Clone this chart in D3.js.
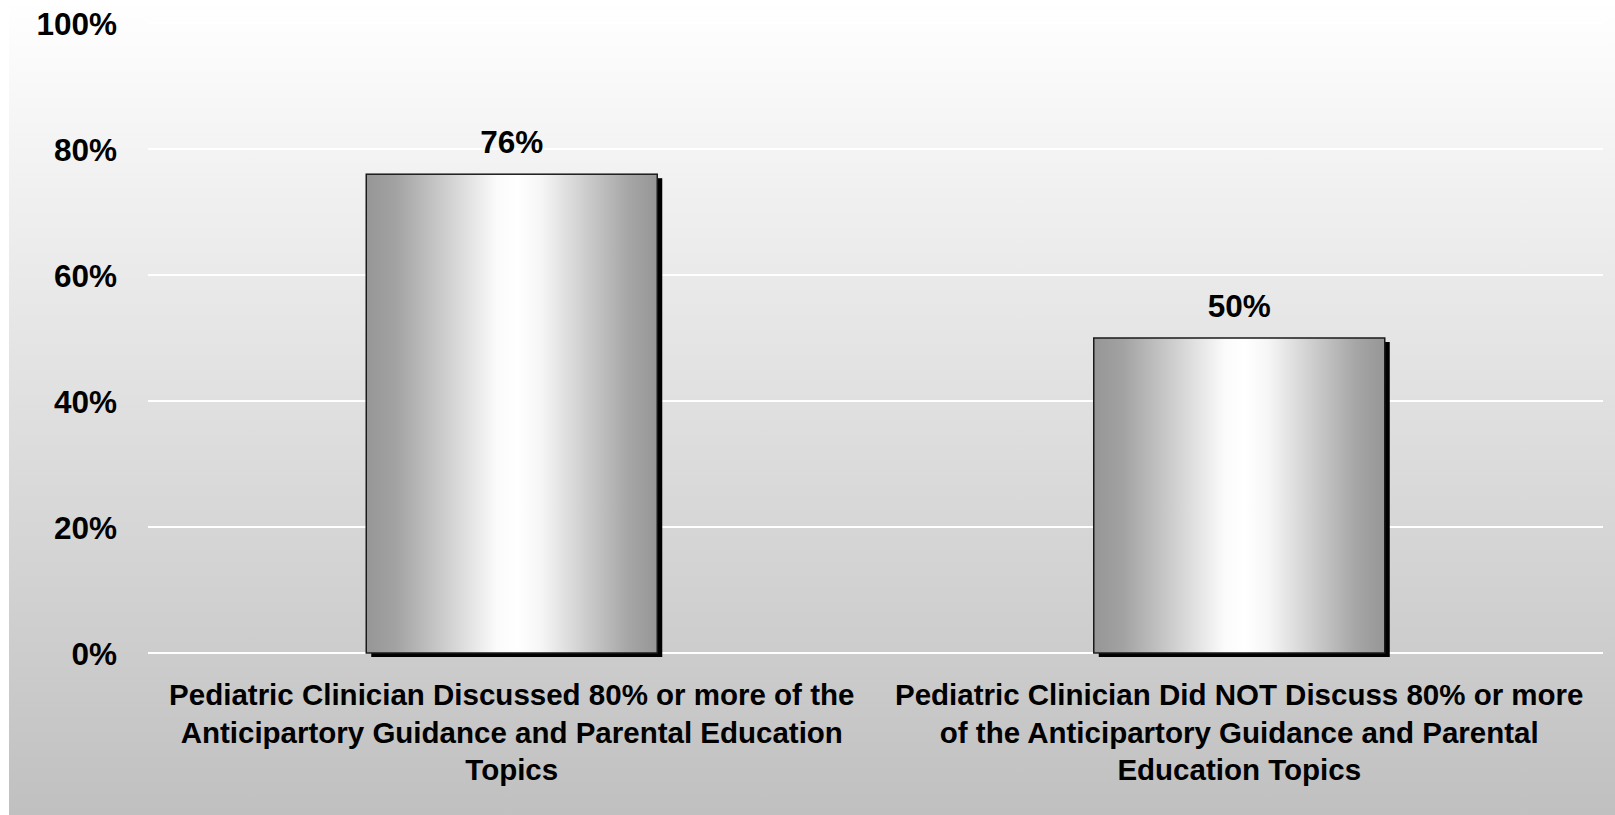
<!DOCTYPE html>
<html>
<head>
<meta charset="utf-8">
<script src="https://cdn.jsdelivr.net/npm/d3@7"></script>
<style>
  html, body { margin: 0; padding: 0; background: #ffffff; }
  svg { display: block; }
  text { font-family: Arial, "Liberation Sans", sans-serif; font-weight: bold; fill: #000; }
</style>
</head>
<body>
<svg id="chart" width="1615" height="815"></svg>
<script>
// ---- data ----
const categories = [
  ["Pediatric Clinician Discussed 80% or more of the",
   "Anticipartory Guidance and Parental Education",
   "Topics"],
  ["Pediatric Clinician Did NOT Discuss 80% or more",
   "of the Anticipartory Guidance and Parental",
   "Education Topics"]
];
const values = [76, 50];
const valueLabels = ["76%", "50%"];
const yTicks = [0, 20, 40, 60, 80, 100];
const yTickLabels = ["0%", "20%", "40%", "60%", "80%", "100%"];

// ---- layout ----
const W = 1615, H = 815;
const plot = { left: 148, right: 1603, top: 23, bottom: 653 };

const svg = d3.select("#chart");
const defs = svg.append("defs");

const bg = defs.append("linearGradient").attr("id", "bgGrad")
  .attr("x1", 0).attr("y1", 0).attr("x2", 0).attr("y2", 1);
bg.append("stop").attr("offset", "0%").attr("stop-color", "#ffffff");
bg.append("stop").attr("offset", "100%").attr("stop-color", "#c0c0c0");

const barGrad = defs.append("linearGradient").attr("id", "barGrad")
  .attr("x1", 0).attr("y1", 0).attr("x2", 1).attr("y2", 0);
[["0%", "#969696"], ["10%", "#a2a2a2"], ["45%", "#fbfbfb"], ["52%", "#ffffff"],
 ["60%", "#f6f6f6"], ["90%", "#a6a6a6"], ["100%", "#969696"]].forEach(([o, c]) =>
  barGrad.append("stop").attr("offset", o).attr("stop-color", c));

svg.append("rect").attr("x", 9).attr("y", 0).attr("width", W - 9).attr("height", H)
  .attr("fill", "url(#bgGrad)");

const x = d3.scaleBand().domain(d3.range(values.length))
  .range([plot.left, plot.right]).padding(0);
const y = d3.scaleLinear().domain([0, 100]).range([plot.bottom, plot.top]);

const barW = x.bandwidth() * 0.4;

// gridlines
svg.append("g").selectAll("line").data(yTicks).join("line")
  .attr("x1", plot.left).attr("x2", plot.right)
  .attr("y1", d => y(d)).attr("y2", d => y(d))
  .attr("stroke", "#ffffff").attr("stroke-width", 2);

// y axis labels
const yAxis = d3.axisLeft(y).tickValues(yTicks)
  .tickFormat((d, i) => yTickLabels[i]).tickSize(0).tickPadding(0);
const yg = svg.append("g").attr("transform", `translate(117,0)`).call(yAxis);
yg.select(".domain").remove();
yg.selectAll("text").attr("font-size", 31.5).attr("font-family", "Arial, 'Liberation Sans', sans-serif")
  .attr("font-weight", "bold").attr("fill", "#000").attr("dy", "0.36em");

// bars
const bars = svg.append("g").selectAll("g").data(values).join("g");
bars.append("rect")
  .attr("x", (d, i) => x(i) + (x.bandwidth() - barW) / 2 + 5)
  .attr("y", d => y(d) + 4)
  .attr("width", barW).attr("height", d => y(0) - y(d))
  .attr("fill", "#000");
bars.append("rect")
  .attr("x", (d, i) => x(i) + (x.bandwidth() - barW) / 2)
  .attr("y", d => y(d))
  .attr("width", barW).attr("height", d => y(0) - y(d))
  .attr("fill", "url(#barGrad)")
  .attr("stroke", "#1a1a1a").attr("stroke-width", 1.5);

// value labels
svg.append("g").selectAll("text").data(values).join("text")
  .attr("x", (d, i) => x(i) + x.bandwidth() / 2)
  .attr("y", d => y(d) - 21)
  .attr("text-anchor", "middle").attr("font-size", 31.5)
  .text((d, i) => valueLabels[i]);

// category labels
const cg = svg.append("g").selectAll("text").data(categories).join("text")
  .attr("text-anchor", "middle").attr("font-size", 29.5)
  .attr("x", (d, i) => x(i) + x.bandwidth() / 2)
  .attr("y", 705);
cg.selectAll("tspan").data(d => d).join("tspan")
  .attr("x", function () { return d3.select(this.parentNode).attr("x"); })
  .attr("dy", (d, j) => j === 0 ? 0 : 37.5)
  .text(d => d);
</script>
</body>
</html>
